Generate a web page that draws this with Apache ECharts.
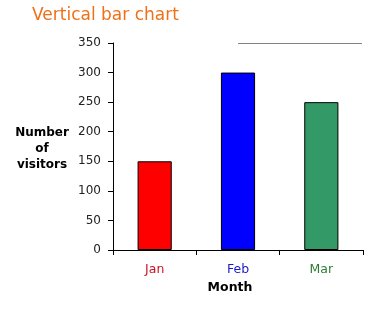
<!DOCTYPE html>
<html><head><meta charset="utf-8">
<script src="https://cdn.jsdelivr.net/npm/echarts@6/dist/echarts.min.js"></script>
<style>html,body{margin:0;padding:0;background:#fff}#c{width:377px;height:311px}</style>
</head><body><div id="c"></div>
<script>
var categories = ['Jan', 'Feb', 'Mar'];
var visitors = [150, 300, 250];
var barColors = ['#ff0000', '#0000ff', '#339966'];
var labelColors = ['#cc1122', '#1a1acc', '#2e7d32'];
var yTicks = [0, 50, 100, 150, 200, 250, 300, 350];

var chart = echarts.init(document.getElementById('c'), null, {renderer: 'canvas'});
chart.setOption({
  animation: false,
  backgroundColor: '#ffffff',
  title: {
    text: 'Vertical bar chart', left: 27, top: 2,
    textStyle: {color: '#f07018', fontFamily: 'DejaVu Sans', fontSize: 17, fontWeight: 'normal'}
  },
  graphic: [{
    type: 'line', shape: {x1: 238, y1: 43.5, x2: 362, y2: 43.5},
    style: {stroke: '#808080', lineWidth: 1}
  }, {
    type: 'text', left: 12, top: 125,
    style: {text: 'Number\nof\nvisitors', fill: '#000', font: 'bold 12px "DejaVu Sans"', textAlign: 'center', lineHeight: 16, width: 60}
  }],
  grid: {left: 113, right: 14, top: 43, bottom: 61, containLabel: false},
  xAxis: {
    type: 'category', data: categories,
    name: 'Month', nameLocation: 'middle', nameGap: 31,
    nameTextStyle: {color: '#000', fontWeight: 'bold', fontSize: 12.5, fontFamily: 'DejaVu Sans', padding: [0, 16, 0, 0]},
    axisLine: {lineStyle: {color: '#000', width: 1}},
    axisTick: {show: true, length: 5, lineStyle: {color: '#000'}},
    axisLabel: {
      margin: 13, fontSize: 12.5, fontFamily: 'DejaVu Sans',
      color: function (v, i) { return labelColors[i]; }
    }
  },
  yAxis: {
    type: 'value', min: 0, max: 350, interval: 50,
    axisLine: {show: true, lineStyle: {color: '#000', width: 1}},
    axisTick: {show: true, length: 5, lineStyle: {color: '#000'}},
    splitLine: {show: false},
    axisLabel: {margin: 12, fontSize: 12, fontFamily: 'DejaVu Sans', color: '#222'}
  },
  series: [{
    type: 'bar', barWidth: '41%',
    data: visitors.map(function (v, i) {
      return {value: v, itemStyle: {color: barColors[i], borderColor: '#000', borderWidth: 1}};
    })
  }]
});
</script></body></html>
